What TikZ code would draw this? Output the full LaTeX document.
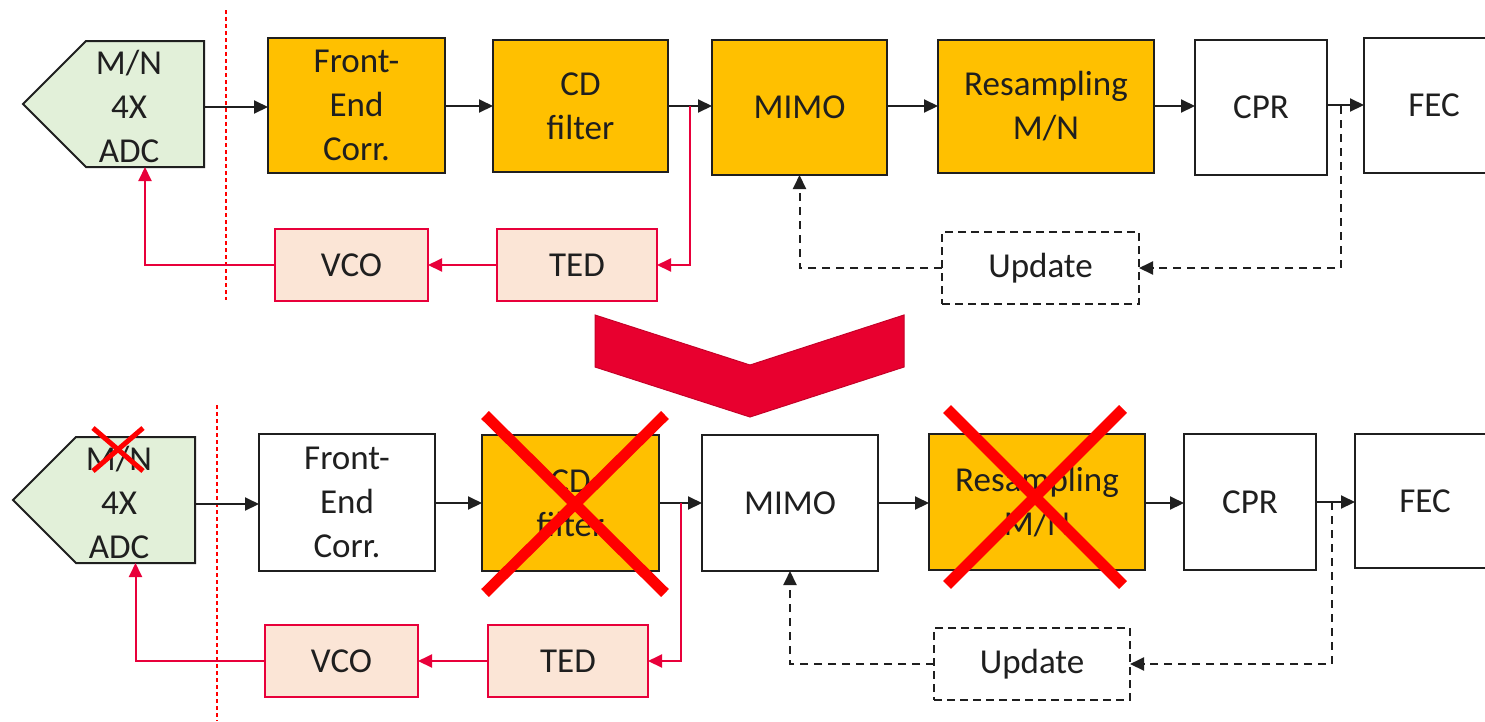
\documentclass[tikz,border=0pt]{standalone}
\usepackage{fontspec}
\setmainfont{Carlito}
\usetikzlibrary{arrows.meta}
\definecolor{orng}{HTML}{FFC000}
\definecolor{grn}{HTML}{E2F0D9}
\definecolor{pch}{HTML}{FBE5D6}
\definecolor{rline}{HTML}{E8003A}
\definecolor{chev}{HTML}{E8002F}
\definecolor{txt}{HTML}{1F1F1F}
\begin{document}
\begin{tikzpicture}[x=1pt,y=-1pt, line join=miter,
 box/.style={draw=txt, line width=2pt, inner sep=0pt, outer sep=0pt, align=center, font=\fontsize{35}{44}\selectfont, text=txt},
 proc/.style={box, fill=orng},
 wbox/.style={box, fill=white},
 rbox/.style={box, draw=rline, fill=pch},
 dbox/.style={box, dash pattern=on 8pt off 5pt, fill=white},
 anc/.style={inner sep=0pt, outer sep=0pt},
 arr/.style={draw=txt, line width=2pt, -{Triangle[length=14pt,width=13pt]}},
 rarr/.style={draw=rline, line width=2pt, -{Triangle[length=14pt,width=13pt]}},
 darr/.style={arr, dash pattern=on 8pt off 6pt},
 cross/.style={draw=red, line width=11pt},
 sepline/.style={draw=red, line width=1.2pt, dash pattern=on 4pt off 3pt},
]
\clip (0,0) rectangle (1485,721);
\fill[white] (0,0) rectangle (1485,721);

% ---------------- top row ----------------
\draw[txt, line width=2pt, fill=grn] (86,41) -- (204,41) -- (204,167) -- (86,167) -- (23,104) -- cycle;
\node[anc, minimum width=118pt, minimum height=126pt] (adc) at (145,104) {};
\node[box, draw=none] (adct) at (129,106) {M/N\\4X\\ADC};
\node[proc, minimum width=177pt, minimum height=135pt] (fe) at (356.5,105.5) {Front-\\End\\Corr.};
\node[proc, minimum width=175pt, minimum height=132pt] (cd) at (580.5,106) {CD\\filter};
\node[proc, minimum width=175pt, minimum height=135pt] (mimo) at (799.5,107.5) {MIMO};
\node[proc, minimum width=216pt, minimum height=133pt] (res) at (1046,106.5) {Resampling\\M/N};
\node[wbox, minimum width=132pt, minimum height=135pt] (cpr) at (1261,107.5) {CPR};
\node[wbox, minimum width=140pt, minimum height=135pt] (fec) at (1434,105.5) {FEC};
\node[rbox, minimum width=160pt, minimum height=72pt] (ted) at (577,265) {TED};
\node[rbox, minimum width=153pt, minimum height=72pt] (vco) at (351.5,265) {VCO};
\node[dbox, minimum width=197pt, minimum height=72pt] (upd) at (1040.5,268) {Update};

\draw[sepline] (226,10) -- (226,300);

\draw[arr] (adc.east |- 0,107) -- (fe.west |- 0,107);
\draw[arr] (fe.east |- 0,106) -- (cd.west |- 0,106);
\draw[arr] (cd.east |- 0,106) -- (mimo.west |- 0,106);
\draw[arr] (mimo.east |- 0,106) -- (res.west |- 0,106);
\draw[arr] (res.east |- 0,106) -- (cpr.west |- 0,106);
\draw[arr] (cpr.east |- 0,105) -- (fec.west |- 0,105);
\coordinate (j1) at (690,106);
\coordinate (k1) at (1341,106);
\draw[rarr] (j1) |- (ted.east);
\draw[rarr] (ted.west) -- (vco.east);
\draw[rarr] (vco.west) -| (adc.south);
\draw[darr] (k1) |- (upd.east);
\draw[darr] (upd.west) -| (mimo.south);

% ---------------- chevron ----------------
\draw[chev!85!black, line width=1pt, fill=chev] (595,315) -- (750,365) -- (904,315) -- (904,367) -- (750,417) -- (595,367) -- cycle;

% ---------------- bottom row ----------------
\draw[txt, line width=2pt, fill=grn] (76,437) -- (195,437) -- (195,563) -- (76,563) -- (13,500) -- cycle;
\node[anc, minimum width=119pt, minimum height=126pt] (adcb) at (135.5,500) {};
\node[box, draw=none] (adcbt) at (119,502) {M/N\\4X\\ADC};
\node[wbox, minimum width=176pt, minimum height=137pt] (feb) at (347,502.5) {Front-\\End\\Corr.};
\node[proc, minimum width=177pt, minimum height=136pt] (cdb) at (570.5,503) {CD\\filter};
\node[wbox, minimum width=176pt, minimum height=136pt] (mimob) at (790,503) {MIMO};
\node[proc, minimum width=216pt, minimum height=136pt] (resb) at (1037,502) {Resampling\\M/N};
\node[wbox, minimum width=132pt, minimum height=136pt] (cprb) at (1250,502) {CPR};
\node[wbox, minimum width=140pt, minimum height=134pt] (fecb) at (1425,501) {FEC};
\node[rbox, minimum width=160pt, minimum height=72pt] (tedb) at (568,661) {TED};
\node[rbox, minimum width=153pt, minimum height=72pt] (vcob) at (341.5,661) {VCO};
\node[dbox, minimum width=196pt, minimum height=72pt] (updb) at (1032,664) {Update};

\draw[sepline] (217,405) -- (217,721);

\draw[arr] (adcb.east |- 0,504) -- (feb.west |- 0,504);
\draw[arr] (feb.east |- 0,503) -- (cdb.west |- 0,503);
\draw[arr] (cdb.east |- 0,503) -- (mimob.west |- 0,503);
\draw[arr] (mimob.east |- 0,503) -- (resb.west |- 0,503);
\draw[arr] (resb.east |- 0,503) -- (cprb.west |- 0,503);
\draw[arr] (cprb.east |- 0,502) -- (fecb.west |- 0,502);
\coordinate (j2) at (681,503);
\coordinate (k2) at (1332,502);
\draw[rarr] (j2) |- (tedb.east);
\draw[rarr] (tedb.west) -- (vcob.east);
\draw[rarr] (vcob.west) -| (adcb.south);
\draw[darr] (k2) |- (updb.east);
\draw[darr] (updb.west) -| (mimob.south);

% crosses
\draw[cross] (485,415) -- (665,593);
\draw[cross] (665,415) -- (485,593);
\draw[cross] (947,409) -- (1123,585);
\draw[cross] (1123,409) -- (947,585);
\draw[draw=red, line width=5pt] (93,428) -- (143,471);
\draw[draw=red, line width=5pt] (143,428) -- (93,471);
\end{tikzpicture}
\end{document}
